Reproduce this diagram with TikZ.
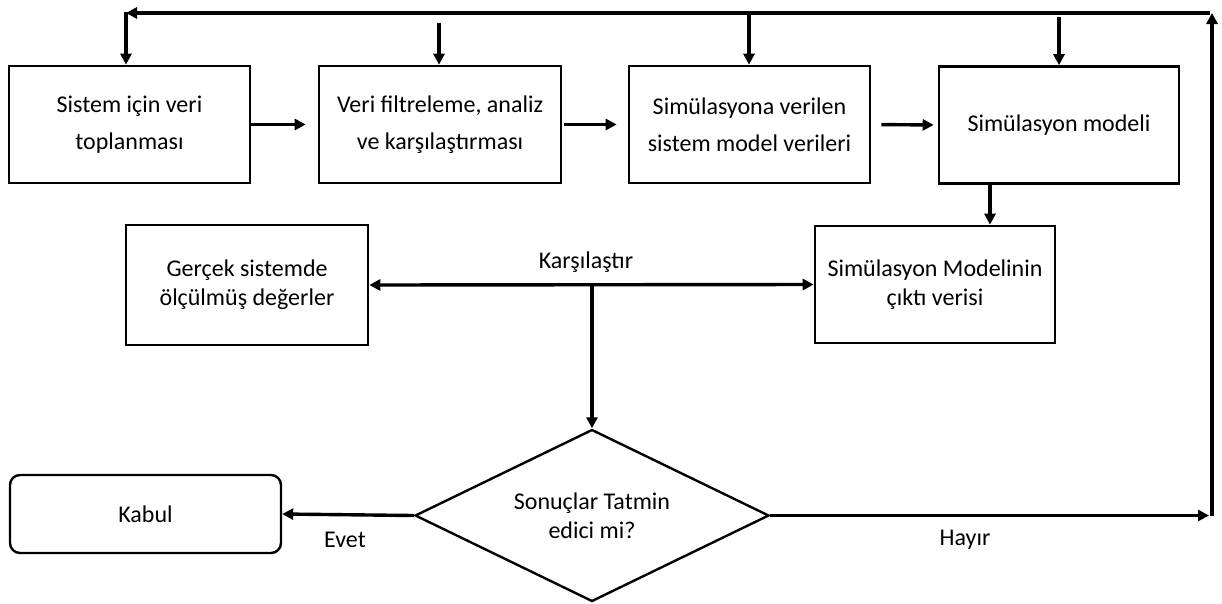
\documentclass[tikz,border=0pt]{standalone}
\usepackage{fontspec}
\setmainfont{Carlito}
\usetikzlibrary{arrows.meta,shapes.geometric}

\tikzset{
  stepbox/.style={draw, line width=2.6pt, inner sep=0pt, align=center,
    minimum width=241pt, minimum height=117pt},
  toprow/.style={font=\fontsize{24}{37}\selectfont},
  midrow/.style={font=\fontsize{24}{29}\selectfont},
  decision/.style={draw, diamond, line width=2.4pt, inner sep=0pt, aspect=2.06,
    minimum width=354pt, minimum height=172pt, align=center,
    font=\fontsize{24}{29}\selectfont},
  endbox/.style={draw, rounded corners=10pt, line width=2.4pt, inner sep=0pt,
    minimum width=271pt, minimum height=78pt, font=\fontsize{24}{29}\selectfont},
  flow/.style={line width=3.4pt, -{Triangle[length=11pt,width=11pt]}},
  twoway/.style={line width=3.4pt, {Triangle[length=11pt,width=11pt]}-{Triangle[length=11pt,width=11pt]}},
  lbl/.style={font=\fontsize{24}{29}\selectfont, inner sep=0pt}
}

\begin{document}
\begin{tikzpicture}[x=1pt, y=-1pt]
\useasboundingbox (0,0) rectangle (1222,603);

% top row of process steps
\node[stepbox, toprow] (b1) at (129.5,124.5) {Sistem için veri\\toplanması};
\node[stepbox, toprow, minimum width=242pt] (b2) at (440,124.5) {Veri filtreleme, analiz\\ve karşılaştırması};
\node[stepbox, toprow] (b3) at (749.5,124.5) {Simülasyona verilen\\sistem model verileri};
\node[stepbox, toprow, minimum width=240pt] (b4) at (1059,125) {Simülasyon modeli};

% comparison row
\node[stepbox, midrow, minimum width=242pt, minimum height=120pt] (real) at (247,285) {Gerçek sistemde\\ölçülmüş değerler};
\node[stepbox, midrow, minimum width=240pt] (out) at (935,284.5) {Simülasyon Modelinin\\çıktı verisi};

% decision and result
\node[decision] (dec) at (592,515.5) {Sonuçlar Tatmin\\edici mi?};
\node[endbox] (acc) at (145.5,514) {Kabul};

% forward flow along the top row
\draw[flow, shorten >=12pt] (b1.east) -- (b2.west);
\draw[flow, shorten <=2pt, shorten >=11pt] (b2.east) -- (b3.west);
\draw[flow, shorten <=10pt, shorten >=4pt] (b3.east) -- (b4.west);

% model output and comparison
\coordinate (m0) at (990,183);
\draw[flow] (m0) -- (m0 |- out.north);
\draw[twoway] (real.east) -- (out.west);
\coordinate (cmp) at (592,285);
\node[lbl] (cmplbl) at (586,262) {Karşılaştır};
\draw[flow] (cmp) -- (dec.north);

% decision outcomes
\draw[flow] (dec.west) -- (acc.east);
\node[lbl] (yes) at (345,540) {Evet};
\coordinate (hr) at (1209,515.5);
\draw[flow] (dec.east) -- (hr);
\node[lbl] (no) at (965,540) {Hayır};

% feedback loop back to the top row
\coordinate (rb) at (1212,515.5);
\coordinate (rt) at (1212,13);
\coordinate (rs) at (1210,13);
\coordinate (lt) at (126,13);
\coordinate (ls) at (126,12);
\draw[flow] (rb) -- (rt);
\draw[flow] (rs) -- (lt);
\draw[flow] (ls) -- (ls |- b1.north);
\coordinate (f2) at (439,23);
\draw[flow] (f2) -- (f2 |- b2.north);
\coordinate (f3) at (749,12);
\draw[flow] (f3) -- (f3 |- b3.north);
\coordinate (f4) at (1059,17);
\draw[flow] (f4) -- (f4 |- b4.north);
\end{tikzpicture}
\end{document}
